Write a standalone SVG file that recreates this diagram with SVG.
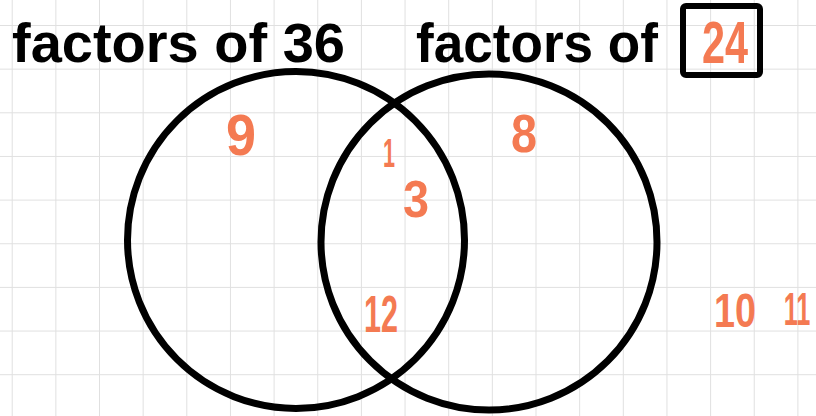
<svg xmlns="http://www.w3.org/2000/svg" width="816" height="416" viewBox="0 0 816 416">
<defs>
<pattern id="grid" x="11.7" y="25" width="43.65" height="43.65" patternUnits="userSpaceOnUse">
<path d="M0 0H43.65M0 0V43.65" fill="none" stroke="#e0e0e0" stroke-width="2"/>
</pattern>
</defs>
<style>
.title{font-family:"Liberation Sans",Arial,sans-serif;font-weight:bold;font-size:56px;fill:#000}
.num{font-family:"Liberation Sans",Arial,sans-serif;font-weight:bold;fill:#f47a52;text-anchor:middle}
.ring{fill:none;stroke:#000;stroke-width:7}
</style>
<rect width="816" height="416" fill="#fff"/>
<rect width="816" height="416" fill="url(#grid)"/>
<g id="set36">
<circle class="ring" cx="296" cy="240" r="168.5"/>
<text class="title" x="12" y="62" textLength="333" lengthAdjust="spacingAndGlyphs">factors of 36</text>
</g>
<g id="set24">
<circle class="ring" cx="489" cy="242" r="168"/>
<text class="title" x="416" y="62" textLength="242" lengthAdjust="spacingAndGlyphs">factors of</text>
<rect x="683" y="6" width="77" height="69" rx="3" fill="none" stroke="#000" stroke-width="6"/>
<text class="num" x="725" y="63" font-size="60" textLength="46" lengthAdjust="spacingAndGlyphs">24</text>
</g>
<g id="numbers">
<text class="num" x="241" y="155" font-size="58" textLength="30" lengthAdjust="spacingAndGlyphs">9</text>
<text class="num" x="524" y="152" font-size="54" textLength="26" lengthAdjust="spacingAndGlyphs">8</text>
<text class="num" x="389" y="167" font-size="40" textLength="12" lengthAdjust="spacingAndGlyphs">1</text>
<text class="num" x="416" y="217" font-size="52" textLength="26" lengthAdjust="spacingAndGlyphs">3</text>
<text class="num" x="381" y="332" font-size="52" textLength="34" lengthAdjust="spacingAndGlyphs">12</text>
<text class="num" x="735" y="327" font-size="49" textLength="42" lengthAdjust="spacingAndGlyphs">10</text>
<text class="num" font-size="46" transform="translate(797 325) scale(0.55 1)">11</text>
</g>
<g id="connectors"></g>
</svg>
